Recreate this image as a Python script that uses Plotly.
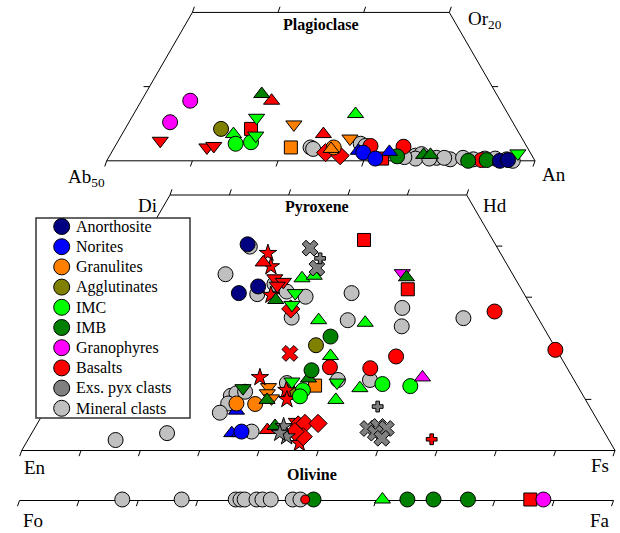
import math
import plotly.graph_objects as go

# ======================= DATA =======================
# Plagioclase compositions: An (mol%), Or (mol%); Ab = 100 - An - Or
plag_mineral_An = [72.9, 73.3, 78.5, 79.2, 85.7, 86.3, 88.3, 90.0, 91.4, 92.7, 89.2, 95.2, 96.6, 97.4, 94.0, 85.9, 84.5, 87.5]
plag_mineral_Or = [1.8, 1.6, 2.3, 2.0, 0.7, 0.9, 0.4, 0.2, 0.4, 0.2, 0.4, 0.3, 0.2, 0.0, 0.3, 0.3, 0.5, 0.3]
plag_anorth_An = [95.9, 96.8]
plag_anorth_Or = [0.0, 0.1]
plag_norite_An = [78.7, 82.4, 79.4, 81.2]
plag_norite_Or = [1.35, 1.2, 1.1, 0.3]
plag_norite_kind = ["tu", "tu", "ci", "ci"]
plag_granul_An = [69.4, 70.6, 75.6, 75.4, 76.9]
plag_granul_Or = [4.9, 1.8, 1.8, 1.6, 3.0]
plag_granul_kind = ["td", "sq", "ci", "tu", "td"]
plag_agglut_An = [61.2]
plag_agglut_Or = [4.3]
plag_basalt_An = [54.9, 60.8, 61.5, 64.7, 65.2, 73.5, 75.0, 76.9, 79.8, 82.0, 83.7, 93.7]
plag_basalt_Or = [2.7, 1.8, 2.0, 4.3, 8.1, 3.6, 1.1, 0.7, 2.0, 0.3, 1.9, 0.1]
plag_basalt_kind = ["td", "td", "td", "sq", "tu", "tu", "di", "di", "ci", "sq", "ci", "ci"]
plag_imc_An = [63.0, 63.9, 65.6, 64.6, 65.7, 75.9, 97.5]
plag_imc_Or = [3.6, 2.3, 2.5, 5.8, 3.4, 6.3, 1.0]
plag_imc_kind = ["tu", "ci", "ci", "td", "td", "tu", "td"]
plag_imb_An = [63.6, 86.6, 87.4, 83.6, 92.2, 94.3]
plag_imb_Or = [9.0, 0.8, 0.8, 0.6, 0.0, 0.1]
plag_imb_kind = ["tu", "tu", "tu", "ci", "ci", "ci"]
plag_granoph_An = [55.7, 54.8]
plag_granoph_Or = [8.1, 5.2]

# Pyroxene compositions: Wo (mol%), Fs (mol%); En = 100 - Wo - Fs
pyx_mineral_Wo = [39.9, 34.5, 30.6, 32.1, 30.1, 26.0, 31.1, 30.8, 27.9, 24.3, 25.9, 25.5, 13.8, 13.8, 13.2, 10.7, 11.2, 11.5, 9.2, 7.4, 3.7, 2.05, 3.4, 32.6]
pyx_mineral_Fs = [18.5, 17.1, 24.4, 27.5, 32.8, 32.5, 29.1, 40.2, 50.2, 51.9, 61.5, 42.2, 46.4, 51.8, 38.1, 29.9, 30.6, 31.9, 30.2, 29.7, 36.9, 14.8, 22.8, 26.3]
pyx_anorth_Wo = [40.35, 30.8, 32.1]
pyx_anorth_Fs = [17.9, 21.2, 23.8]
pyx_norite_Wo = [7.8, 3.4, 3.4, 3.7]
pyx_norite_Fs = [32.3, 33.7, 35.0, 35.2]
pyx_norite_kind = ["tu", "tu", "tu", "ci"]
pyx_granul_Wo = [12.7, 12.4, 11.2, 10.2, 9.2, 9.1]
pyx_granul_Fs = [43.1, 35.4, 35.8, 37.0, 31.6, 34.8]
pyx_granul_kind = ["sq", "td", "td", "td", "ci", "ci"]
pyx_agglut_Wo = [20.6, 11.4]
pyx_agglut_Fs = [39.3, 39.5]
pyx_basalt_Wo = [38.6, 36.0, 30.4, 14.3, 11.8, 10.0, 1.4, 36.8, 4.0, 33.7, 33.0, 32.25, 5.6,
                 27.7, 5.0, 5.3, 5.3, 2.7, 3.7, 41.2, 16.3, 16.1, 18.4, 27.2, 19.7, 19.0, 2.2]
pyx_basalt_Fs = [22.2, 24.0, 26.8, 33.0, 38.7, 39.7, 46.1, 22.3, 39.4, 25.8, 27.6, 26.95, 43.5,
                 31.5, 44.1, 45.1, 47.3, 46.1, 44.2, 37.1, 43.8, 50.7, 53.9, 66.1, 80.1, 35.7, 68.0]
pyx_basalt_kind = ["st", "st", "st", "st", "st", "st", "st", "tu", "tu", "td", "td", "td", "td",
                   "di", "di", "di", "di", "di", "di", "sq", "ci", "ci", "ci", "ci", "ci", "x", "cr"]
pyx_imc_Wo = [33.7, 34.2, 25.5, 25.0, 18.5, 12.2, 9.9, 30.8, 28.5, 13.5, 13.3, 13.0, 12.6, 11.8, 10.6]
pyx_imc_Fs = [30.4, 32.2, 37.3, 45.4, 42.8, 50.9, 48.0, 30.7, 31.3, 38.8, 46.5, 54.3, 59.2, 41.5, 41.6]
pyx_imc_kind = ["tu", "tu", "tu", "tu", "tu", "tu", "tu", "td", "td", "td", "td", "ci", "ci", "ci", "ci"]
pyx_imb_Wo = [29.45, 9.9, 4.8, 14.1, 12.2, 22.3, 15.7]
pyx_imb_Fs = [28.1, 36.4, 40.3, 41.3, 31.2, 40.9, 41.0]
pyx_imb_kind = ["tu", "tu", "tu", "tu", "td", "ci", "ci"]
pyx_granoph_Wo = [34.7, 14.3]
pyx_granoph_Fs = [46.8, 60.4]
pyx_granoph_kind = ["td", "tu"]
pyx_imb_late_Wo = [33.9]
pyx_imb_late_Fs = [47.9]
pyx_basalt_late_Wo = [31.55]
pyx_basalt_late_Fs = [49.3]
pyx_exs_Wo = [39.6, 35.7, 4.3, 4.7, 4.3, 3.4, 2.4, 37.6, 8.6, 4.7, 2.7, 3.4]
pyx_exs_Fs = [28.8, 31.9, 56.2, 57.8, 59.3, 57.9, 59.5, 31.5, 55.7, 41.8, 43.3, 41.8]
pyx_exs_kind = ["x", "x", "x", "x", "x", "x", "x", "cr", "cr", "st", "st", "st"]

# Olivine compositions: Fa (mol%)
ol_mineral_Fa = [17.3, 27.3, 36.4, 37.2, 37.9, 39.9, 40.9, 42.3, 46.0, 47.3]
ol_mineral_minor_Fa = [87.4]
ol_basalt_minor_Fa = [48.1]
ol_basalt_sq_Fa = [86.0]
ol_imb_Fa = [49.5, 65.3, 69.7, 75.5]
ol_imc_Fa = [61.1]
ol_granoph_Fa = [88.2]

groups = ["Anorthosite", "Norites", "Granulites", "Agglutinates", "IMC", "IMB",
          "Granophyres", "Basalts", "Exs. pyx clasts", "Mineral clasts"]

# ======================= STYLE / GEOMETRY =======================
colors = {
    "Anorthosite": "#000080", "Norites": "#0000FF", "Granulites": "#FF8000",
    "Agglutinates": "#808000", "IMC": "#00FF00", "IMB": "#008000",
    "Granophyres": "#FF00FF", "Basalts": "#FF0000", "Exs. pyx clasts": "#808080",
    "Mineral clasts": "#C0C0C0",
}
SYM = {"ci": "circle", "tu": "triangle-up", "td": "triangle-down", "sq": "square",
       "di": "diamond", "st": "star", "x": "x", "cr": "cross"}
SIZE = {"ci": 15, "tu": 14, "td": 14, "sq": 13, "di": 14, "st": 13, "x": 14, "cr": 9}
S3 = math.sqrt(3) / 2

PLAG_X0, PLAG_Y0, PLAG_K = 106.7, 160.8, 8.566
PYX_X0, PYX_Y0, PYX_KX, PYX_KY = 21.7, 450.5, 5.933, 5.11
OL_X0, OL_K, OL_Y = 19.5, 5.94, 499.5
SERIF = "Liberation Serif"


def plag_xy(an, orr):
    return ([PLAG_X0 + (a - 50 + o / 2) * PLAG_K for a, o in zip(an, orr)],
            [PLAG_Y0 - o * PLAG_K * S3 for o in orr])


def pyx_xy(wo, fs):
    return ([PYX_X0 + (f + w / 2) * PYX_KX for w, f in zip(wo, fs)],
            [PYX_Y0 - w * PYX_KY for w in wo])


def ol_xy(fa):
    return [OL_X0 + f * OL_K for f in fa], [OL_Y] * len(fa)


fig = go.Figure()


def add_pts(xy, group, kinds=None, size=None):
    xs, ys = xy
    if kinds is None:
        kinds = ["ci"] * len(xs)
    fig.add_trace(go.Scatter(
        x=xs, y=ys, mode="markers", showlegend=False, hoverinfo="skip", name=group,
        marker=dict(symbol=[SYM[k] for k in kinds],
                    size=[size or SIZE[k] for k in kinds], opacity=1,
                    color=colors[group], line=dict(color="black", width=1))))


# ---- plagioclase ----
add_pts(plag_xy(plag_mineral_An, plag_mineral_Or), "Mineral clasts")
add_pts(plag_xy(plag_granoph_An, plag_granoph_Or), "Granophyres")
add_pts(plag_xy(plag_agglut_An, plag_agglut_Or), "Agglutinates")
add_pts(plag_xy(plag_basalt_An, plag_basalt_Or), "Basalts", plag_basalt_kind)
add_pts(plag_xy(plag_granul_An, plag_granul_Or), "Granulites", plag_granul_kind)
add_pts(plag_xy(plag_imc_An, plag_imc_Or), "IMC", plag_imc_kind)
add_pts(plag_xy(plag_imb_An, plag_imb_Or), "IMB", plag_imb_kind)
add_pts(plag_xy(plag_norite_An, plag_norite_Or), "Norites", plag_norite_kind)
add_pts(plag_xy(plag_anorth_An, plag_anorth_Or), "Anorthosite")

# ---- pyroxene ----
add_pts(pyx_xy(pyx_mineral_Wo, pyx_mineral_Fs), "Mineral clasts")
add_pts(pyx_xy(pyx_anorth_Wo, pyx_anorth_Fs), "Anorthosite")
add_pts(pyx_xy(pyx_norite_Wo, pyx_norite_Fs), "Norites", pyx_norite_kind)
add_pts(pyx_xy(pyx_granul_Wo, pyx_granul_Fs), "Granulites", pyx_granul_kind)
add_pts(pyx_xy(pyx_agglut_Wo, pyx_agglut_Fs), "Agglutinates")
add_pts(pyx_xy(pyx_basalt_Wo, pyx_basalt_Fs), "Basalts", pyx_basalt_kind)
add_pts(pyx_xy(pyx_imc_Wo, pyx_imc_Fs), "IMC", pyx_imc_kind)
add_pts(pyx_xy(pyx_imb_Wo, pyx_imb_Fs), "IMB", pyx_imb_kind)
add_pts(pyx_xy(pyx_granoph_Wo, pyx_granoph_Fs), "Granophyres", pyx_granoph_kind)
add_pts(pyx_xy(pyx_imb_late_Wo, pyx_imb_late_Fs), "IMB", ["tu"])
add_pts(pyx_xy(pyx_basalt_late_Wo, pyx_basalt_late_Fs), "Basalts", ["sq"])
add_pts(pyx_xy(pyx_exs_Wo, pyx_exs_Fs), "Exs. pyx clasts", pyx_exs_kind)

# ---- olivine ----
add_pts(ol_xy(ol_mineral_Fa), "Mineral clasts")
add_pts(ol_xy(ol_mineral_minor_Fa), "Mineral clasts", size=8)
add_pts(ol_xy(ol_imb_Fa), "IMB")
add_pts(ol_xy(ol_basalt_minor_Fa), "Basalts", size=9)
add_pts(ol_xy(ol_imc_Fa), "IMC", ["tu"])
add_pts(ol_xy(ol_basalt_sq_Fa), "Basalts", ["sq"])
add_pts(ol_xy(ol_granoph_Fa), "Granophyres")

# ======================= FRAMES & TICKS =======================
shapes = []


def seg(x0, y0, x1, y1):
    shapes.append(dict(type="line", xref="x", yref="y", x0=x0, y0=y0, x1=x1, y1=y1,
                       line=dict(color="black", width=1), layer="below"))


def poly(xs, ys):
    for i in range(len(xs) - 1):
        seg(xs[i], ys[i], xs[i + 1], ys[i + 1])


def tick(x, y, d, L=6):
    n = math.hypot(*d)
    seg(x, y, x + d[0] / n * L, y + d[1] / n * L)


DOWN = (-0.33, 0.95)
UP = (0.33, -0.95)

# plagioclase trapezoid
px, py = plag_xy([50, 100, 80, 50, 50], [0, 0, 20, 20, 0])
poly(px, py)
tx, ty = plag_xy([50, 60, 70, 80, 90, 100], [0] * 6)
for x, y in zip(tx, ty):
    tick(x, y, DOWN)
tx, ty = plag_xy([50, 60, 70, 80], [20] * 4)
for x, y in zip(tx, ty):
    tick(x, y, UP)
tx, ty = plag_xy([50], [10])
tick(tx[0], ty[0], (-1, 0))
tx, ty = plag_xy([90], [10])
tick(tx[0], ty[0], (1, 0))

# pyroxene quadrilateral
qx, qy = pyx_xy([0, 0, 50, 50, 0], [0, 100, 50, 0, 0])
poly(qx, qy)
tx, ty = pyx_xy([0] * 11, list(range(0, 101, 10)))
for x, y in zip(tx, ty):
    tick(x, y, DOWN)
tx, ty = pyx_xy([50] * 6, list(range(0, 51, 10)))
for x, y in zip(tx, ty):
    tick(x, y, UP)
for w in (10, 20, 30, 40):
    lx, ly = pyx_xy([w], [0])
    tick(lx[0], ly[0], (-1, 0))
    rx, ry = pyx_xy([w], [100 - w])
    tick(rx[0], ry[0], (1, 0))

# olivine line
ox, oy = ol_xy([0, 100])
seg(ox[0], oy[0] + 1, ox[1], oy[1] + 1)
tx, ty = ol_xy(list(range(0, 101, 10)))
for x, y in zip(tx, ty):
    tick(x, y + 1, DOWN)

# ======================= LEGEND (drawn box) =======================
LEG_X0, LEG_Y0, LEG_X1, LEG_Y1 = 36, 218, 190, 418
LEG_ROW0, LEG_STEP, LEG_MX, LEG_TX = 226.5, 20.2, 61.7, 74
shapes.append(dict(type="rect", xref="x", yref="y", x0=LEG_X0, y0=LEG_Y0, x1=LEG_X1, y1=LEG_Y1,
                   fillcolor="white", line=dict(color="#333333", width=1.5), layer="below"))
leg_y = [LEG_ROW0 + i * LEG_STEP for i in range(len(groups))]
fig.add_trace(go.Scatter(
    x=[LEG_MX] * len(groups), y=leg_y, mode="markers", showlegend=False, hoverinfo="skip",
    marker=dict(symbol="circle", size=16, opacity=1, color=[colors[g] for g in groups],
                line=dict(color="black", width=1))))

# ======================= LABELS =======================
ann = []


def label(x, y, text, size=19, anchor="center", bold=False):
    ann.append(dict(x=x, y=y, xref="x", yref="y", text=f"<b>{text}</b>" if bold else text,
                    showarrow=False, xanchor=anchor, yanchor="middle",
                    font=dict(family=SERIF, size=size, color="black")))


for g, yy in zip(groups, leg_y):
    label(LEG_TX, yy, g, 16, anchor="left")

label(321, 25, "Plagioclase", 16, bold=True)
label(317, 207, "Pyroxene", 16, bold=True)
label(312, 474, "Olivine", 16, bold=True)
label(466, 20, "Or<sub>20</sub>", anchor="left")
label(66, 178, "Ab<sub>50</sub>", anchor="left")
label(554, 174, "An")
label(147, 205, "Di")
label(495, 205, "Hd")
label(35, 467, "En")
label(600, 465, "Fs")
label(33, 520, "Fo")
label(600, 520, "Fa")

fig.update_layout(
    width=620, height=533, margin=dict(l=0, r=0, t=0, b=0, pad=0),
    paper_bgcolor="white", plot_bgcolor="white",
    xaxis=dict(range=[0, 620], visible=False, fixedrange=True),
    yaxis=dict(range=[533, 0], visible=False, fixedrange=True),
    shapes=shapes, annotations=ann,
    showlegend=False,
)

fig.write_html("out.html", config={"displayModeBar": False, "staticPlot": True},
               post_script="document.body.style.margin='0px';")
